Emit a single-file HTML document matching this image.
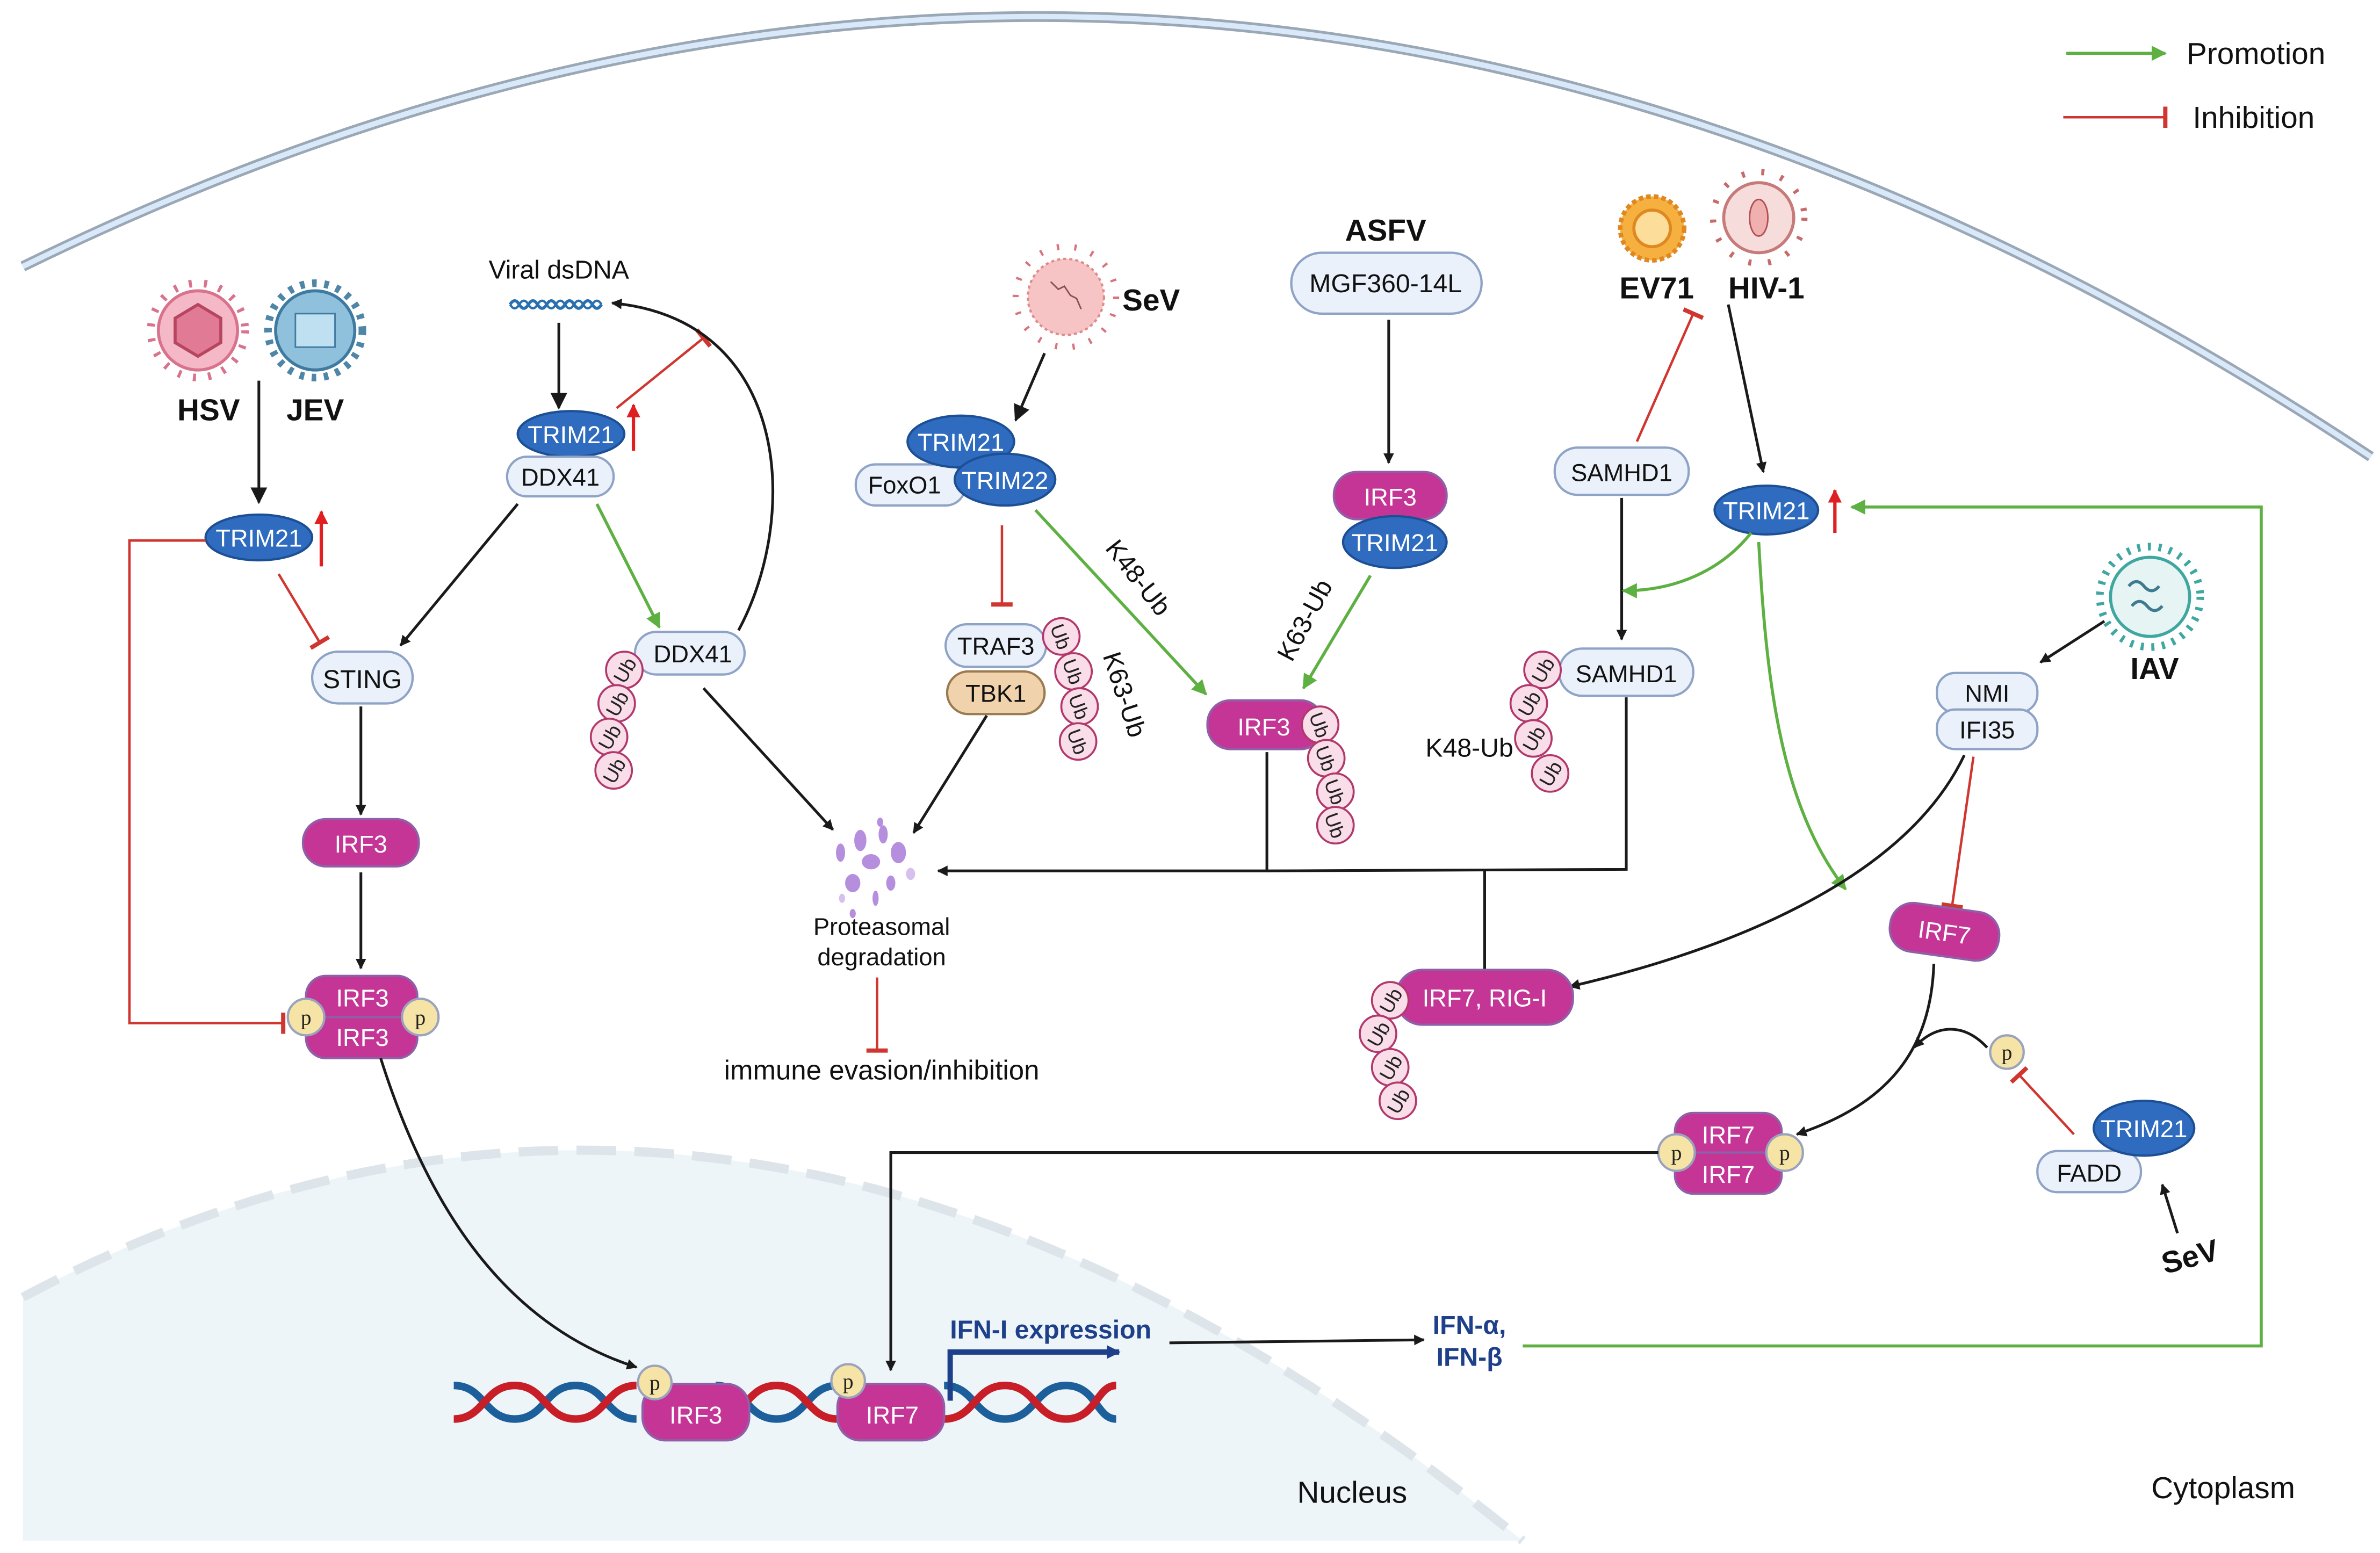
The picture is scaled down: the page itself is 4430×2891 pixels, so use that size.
<!DOCTYPE html>
<html><head><meta charset="utf-8"><style>
html,body{margin:0;padding:0;background:#fff;}
svg{display:block;}
text{font-family:"Liberation Sans",sans-serif;}
.w{fill:#fff;font-size:16px;text-anchor:middle;}
.k{fill:#111;font-size:16px;text-anchor:middle;}
.b{fill:#111;font-size:20px;font-weight:bold;text-anchor:middle;}
.ub{fill:#f9dde8;stroke:#b2386c;stroke-width:1.3;}
.ubt{fill:#222;font-size:13px;text-anchor:middle;}
.tr{fill:#2f6cbf;stroke:#1d4f95;stroke-width:1.5;}
.lt{fill:#eaf1fb;stroke:#8ea3c6;stroke-width:1.5;}
.mg{fill:#c43595;stroke:#8f5fa8;stroke-width:1.5;}
.p{fill:#f5e4a6;stroke:#9aa3bd;stroke-width:1.5;}
.pt{fill:#222;font-size:14px;text-anchor:middle;font-family:"Liberation Serif",serif;}
.blk{stroke:#1a1a1a;stroke-width:1.8;fill:none;}
.grn{stroke:#5fb043;stroke-width:2;fill:none;}
.red{stroke:#d0362f;stroke-width:1.6;fill:none;}
</style></head><body>
<svg width="4430" height="2891" viewBox="0 0 1563 1020" xmlns="http://www.w3.org/2000/svg">
<defs>
<marker id="ab" viewBox="0 0 10 10" refX="9" refY="5" markerWidth="7" markerHeight="7" orient="auto" markerUnits="userSpaceOnUse"><path d="M0,0 L10,5 L0,10 z" fill="#1a1a1a"/></marker>
<marker id="ab2" viewBox="0 0 10 10" refX="9" refY="5" markerWidth="11" markerHeight="11" orient="auto" markerUnits="userSpaceOnUse"><path d="M0,0 L10,5 L0,10 z" fill="#1a1a1a"/></marker>
<marker id="arr" viewBox="0 0 10 10" refX="9" refY="5" markerWidth="9" markerHeight="9" orient="auto" markerUnits="userSpaceOnUse"><path d="M0,0 L10,5 L0,10 z" fill="#e02020"/></marker>
<marker id="ag" viewBox="0 0 10 10" refX="9" refY="5" markerWidth="10" markerHeight="10" orient="auto" markerUnits="userSpaceOnUse"><path d="M0,0 L10,5 L0,10 z" fill="#5fb043"/></marker>
<marker id="ar" viewBox="0 0 4 20" refX="2" refY="10" markerWidth="4" markerHeight="14" orient="auto" markerUnits="userSpaceOnUse"><rect x="0" y="0" width="4" height="20" fill="#d0362f"/></marker>
<marker id="au" viewBox="0 0 10 10" refX="9" refY="5" markerWidth="9" markerHeight="9" orient="auto" markerUnits="userSpaceOnUse"><path d="M0,0 L10,5 L0,10 z" fill="#1e3f8a"/></marker>
</defs>

<path d="M15,175 Q795,-207 1557,300" stroke="#9aa7b5" stroke-width="7" fill="none"/>
<path d="M15,175 Q795,-207 1557,300" stroke="#d9e9fa" stroke-width="3.5" fill="none"/>

<path d="M15,852 Q492,598 1000,1012 L15,1012 Z" fill="#eef5f9"/>
<path d="M15,852 Q492,598 1000,1012" stroke="#dde4ea" stroke-width="6" fill="none" stroke-dasharray="26 12"/>

<line x1="1357" y1="35" x2="1422" y2="35" class="grn" stroke-width="2.5" marker-end="url(#ag)"/>
<text x="1436" y="42" style="font-size:20px;fill:#111">Promotion</text>
<line x1="1355" y1="77" x2="1422" y2="77" class="red" stroke-width="2.5" marker-end="url(#ar)"/>
<text x="1440" y="84" style="font-size:20px;fill:#111">Inhibition</text>

<circle cx="130" cy="217" r="31" fill="none" stroke="#d9738d" stroke-width="5" stroke-dasharray="2 8"/>
<circle cx="130" cy="217" r="26" fill="#f4b8c6" stroke="#d9738d" stroke-width="2"/>
<polygon points="130,200 145,209 145,225 130,234 115,225 115,209" fill="#e07a95" stroke="#b8455f" stroke-width="2"/>
<circle cx="207" cy="217" r="31" fill="none" stroke="#4f86a8" stroke-width="5" stroke-dasharray="3 5"/>
<circle cx="207" cy="217" r="26" fill="#8fc0dc" stroke="#3f7aa0" stroke-width="2"/>
<rect x="194" y="206" width="26" height="22" fill="#bfe0f0" stroke="#3f7aa0"/>
<text x="137" y="276" class="b">HSV</text>
<text x="207" y="276" class="b">JEV</text>
<line x1="170" y1="250" x2="170" y2="330" class="blk" stroke-width="2.2" marker-end="url(#ab2)"/>
<ellipse cx="170" cy="353" rx="35" ry="15" class="tr"/><text x="170" y="359" class="w">TRIM21</text>
<line x1="211" y1="372" x2="211" y2="336" stroke="#e02020" stroke-width="2.2" marker-end="url(#arr)"/>
<line x1="183" y1="377" x2="210" y2="422" class="red" marker-end="url(#ar)"/>
<polyline points="135,355 85,355 85,672 186,672" class="red" marker-end="url(#ar)"/>
<rect x="205" y="428" width="66" height="34" rx="17" class="lt"/><text x="238" y="452" class="k" style="font-size:17px">STING</text>
<line x1="237" y1="464" x2="237" y2="535" class="blk" marker-end="url(#ab)"/>
<rect x="199" y="538" width="76" height="31" rx="15" class="mg"/><text x="237" y="560" class="w">IRF3</text>
<line x1="237" y1="573" x2="237" y2="636" class="blk" marker-end="url(#ab)"/>
<rect x="201" y="641" width="73" height="28" rx="13" class="mg"/><text x="238" y="661" class="w">IRF3</text>
<rect x="201" y="668" width="73" height="27" rx="13" class="mg"/><text x="238" y="687" class="w">IRF3</text>
<circle cx="201" cy="668" r="12" class="p"/><text x="201" y="673" class="pt">p</text>
<circle cx="276" cy="668" r="12" class="p"/><text x="276" y="673" class="pt">p</text>
<path d="M250,695 C280,790 330,870 418,898" class="blk" marker-end="url(#ab)"/>

<text x="367" y="183" class="k" style="font-size:17px">Viral dsDNA</text>
<path d="M335,200 q3,-5 6,0 t6,0 t6,0 t6,0 t6,0 t6,0 t6,0 t6,0 t6,0 t6,0" stroke="#2a6fb0" stroke-width="2" fill="none"/>
<path d="M335,200 q3,5 6,0 t6,0 t6,0 t6,0 t6,0 t6,0 t6,0 t6,0 t6,0 t6,0" stroke="#2a6fb0" stroke-width="1.5" fill="none"/>
<line x1="367" y1="212" x2="367" y2="268" class="blk" stroke-width="2.2" marker-end="url(#ab2)"/>
<ellipse cx="375" cy="285" rx="35" ry="15" class="tr"/><text x="375" y="291" class="w">TRIM21</text>
<line x1="416" y1="296" x2="416" y2="266" stroke="#e02020" stroke-width="2.2" marker-end="url(#arr)"/>
<rect x="333" y="300" width="70" height="26" rx="13" class="lt"/><text x="368" y="319" class="k">DDX41</text>
<line x1="405" y1="268" x2="462" y2="222" class="red" marker-end="url(#ar)"/>
<line x1="340" y1="331" x2="263" y2="424" class="blk" marker-end="url(#ab)"/>
<line x1="392" y1="331" x2="433" y2="412" class="grn" marker-end="url(#ag)"/>
<path d="M485,414 C525,340 520,210 402,199" class="blk" marker-end="url(#ab)"/>
<rect x="417" y="415" width="72" height="28" rx="14" class="lt"/><text x="455" y="435" class="k">DDX41</text>
<g><circle cx="410" cy="440" r="12" class="ub"/><circle cx="405" cy="462" r="12" class="ub"/><circle cx="400" cy="484" r="12" class="ub"/><circle cx="403" cy="506" r="12" class="ub"/>
<text x="410" y="445" class="ubt" transform="rotate(-60 410 440)">Ub</text><text x="405" y="467" class="ubt" transform="rotate(-60 405 462)">Ub</text><text x="400" y="489" class="ubt" transform="rotate(-60 400 484)">Ub</text><text x="403" y="511" class="ubt" transform="rotate(-60 403 506)">Ub</text></g>
<line x1="462" y1="452" x2="547" y2="545" class="blk" marker-end="url(#ab)"/>

<circle cx="700" cy="195" r="33" fill="none" stroke="#d9737d" stroke-width="4" stroke-dasharray="1.5 10"/>
<circle cx="700" cy="195" r="25" fill="#f6c4c4" stroke="#e08a8a" stroke-width="1.5" stroke-dasharray="2 2"/>
<path d="M690,185 l5,5 l4,-2 l4,6 l4,2 l3,7" stroke="#8a5050" fill="none" stroke-width="1"/>
<text x="756" y="204" class="b">SeV</text>
<line x1="686" y1="232" x2="667" y2="276" class="blk" stroke-width="2.2" marker-end="url(#ab2)"/>
<rect x="562" y="305" width="72" height="27" rx="13" class="lt"/><text x="594" y="324" class="k">FoxO1</text>
<ellipse cx="631" cy="290" rx="35" ry="17" class="tr"/><text x="631" y="296" class="w">TRIM21</text>
<ellipse cx="660" cy="315" rx="33" ry="17" class="tr"/><text x="660" y="321" class="w">TRIM22</text>
<line x1="658" y1="345" x2="658" y2="397" class="red" marker-end="url(#ar)"/>
<rect x="621" y="410" width="66" height="28" rx="14" class="lt"/><text x="654" y="430" class="k">TRAF3</text>
<rect x="622" y="441" width="64" height="28" rx="14" fill="#f0d3ad" stroke="#9a7a50" stroke-width="1.5"/><text x="654" y="461" class="k">TBK1</text>
<g><circle cx="697" cy="418" r="12" class="ub"/><circle cx="705" cy="441" r="12" class="ub"/><circle cx="709" cy="464" r="12" class="ub"/><circle cx="708" cy="487" r="12" class="ub"/>
<text x="697" y="423" class="ubt" transform="rotate(70 697 418)">Ub</text><text x="705" y="446" class="ubt" transform="rotate(70 705 441)">Ub</text><text x="709" y="469" class="ubt" transform="rotate(70 709 464)">Ub</text><text x="708" y="492" class="ubt" transform="rotate(70 708 487)">Ub</text></g>
<text x="733" y="458" class="k" style="font-size:17px" transform="rotate(72 733 458)">K63-Ub</text>
<line x1="648" y1="470" x2="600" y2="547" class="blk" marker-end="url(#ab)"/>
<line x1="680" y1="335" x2="792" y2="456" class="grn" marker-end="url(#ag)"/>
<text x="743" y="383" class="k" style="font-size:17px" transform="rotate(52 743 383)">K48-Ub</text>

<g fill="#b58fdd">
<ellipse cx="565" cy="552" rx="4" ry="7"/><ellipse cx="580" cy="548" rx="3" ry="6"/><ellipse cx="590" cy="560" rx="5" ry="7"/><ellipse cx="572" cy="566" rx="6" ry="5"/><ellipse cx="552" cy="560" rx="3" ry="6"/><ellipse cx="560" cy="580" rx="5" ry="6"/><ellipse cx="585" cy="580" rx="3" ry="5"/><ellipse cx="575" cy="590" rx="2" ry="5"/><ellipse cx="598" cy="574" rx="3" ry="4" fill="#d5c0ee"/><ellipse cx="553" cy="590" rx="2" ry="3" fill="#d5c0ee"/><ellipse cx="578" cy="540" rx="2" ry="3"/><ellipse cx="560" cy="600" rx="2" ry="3"/>
</g>
<text x="579" y="614" class="k">Proteasomal</text>
<text x="579" y="634" class="k">degradation</text>
<line x1="576" y1="642" x2="576" y2="690" class="red" marker-end="url(#ar)"/>
<text x="579" y="709" class="k" style="font-size:18px">immune evasion/inhibition</text>

<text x="910" y="158" class="b">ASFV</text>
<rect x="848" y="166" width="125" height="40" rx="20" class="lt"/><text x="910" y="192" class="k" style="font-size:17px">MGF360-14L</text>
<line x1="912" y1="210" x2="912" y2="304" class="blk" marker-end="url(#ab)"/>
<rect x="876" y="310" width="74" height="31" rx="15" class="mg"/><text x="913" y="332" class="w">IRF3</text>
<ellipse cx="916" cy="356" rx="34" ry="17" class="tr"/><text x="916" y="362" class="w">TRIM21</text>
<line x1="900" y1="378" x2="856" y2="452" class="grn" marker-end="url(#ag)"/>
<text x="862" y="410" class="k" style="font-size:17px" transform="rotate(-62 862 410)">K63-Ub</text>
<rect x="793" y="460" width="76" height="32" rx="15" class="mg"/><text x="830" y="483" class="w">IRF3</text>
<g><circle cx="867" cy="476" r="12" class="ub"/><circle cx="871" cy="498" r="12" class="ub"/><circle cx="877" cy="520" r="12" class="ub"/><circle cx="877" cy="542" r="12" class="ub"/>
<text x="867" y="481" class="ubt" transform="rotate(70 867 476)">Ub</text><text x="871" y="503" class="ubt" transform="rotate(70 871 498)">Ub</text><text x="877" y="525" class="ubt" transform="rotate(70 877 520)">Ub</text><text x="877" y="547" class="ubt" transform="rotate(70 877 542)">Ub</text></g>
<polyline points="832,494 832,572 616,572" class="blk" marker-end="url(#ab)"/>
<polyline points="1068,458 1068,571 832,572" class="blk"/>
<line x1="975" y1="572" x2="975" y2="640" class="blk"/>

<circle cx="1085" cy="150" r="21" fill="#f6b040" stroke="#e08820" stroke-width="3" stroke-dasharray="3 2"/>
<circle cx="1085" cy="150" r="12" fill="#fcdd9a" stroke="#e08820" stroke-width="2"/>
<circle cx="1155" cy="143" r="30" fill="none" stroke="#c76a6a" stroke-width="4" stroke-dasharray="2 11"/>
<circle cx="1155" cy="143" r="23" fill="#f7dcdc" stroke="#c77a7a" stroke-width="2"/>
<ellipse cx="1155" cy="143" rx="6" ry="12" fill="#f0b0b0" stroke="#b05050"/>
<text x="1088" y="196" class="b">EV71</text>
<text x="1160" y="196" class="b">HIV-1</text>
<line x1="1075" y1="290" x2="1112" y2="206" class="red" marker-end="url(#ar)"/>
<rect x="1021" y="294" width="88" height="31" rx="15" class="lt"/><text x="1065" y="316" class="k">SAMHD1</text>
<line x1="1065" y1="327" x2="1065" y2="420" class="blk" marker-end="url(#ab)"/>
<rect x="1024" y="426" width="88" height="31" rx="15" class="lt"/><text x="1068" y="448" class="k">SAMHD1</text>
<g><circle cx="1013" cy="440" r="12" class="ub"/><circle cx="1004" cy="462" r="12" class="ub"/><circle cx="1007" cy="485" r="12" class="ub"/><circle cx="1018" cy="508" r="12" class="ub"/>
<text x="1013" y="445" class="ubt" transform="rotate(-60 1013 440)">Ub</text><text x="1004" y="467" class="ubt" transform="rotate(-60 1004 462)">Ub</text><text x="1007" y="490" class="ubt" transform="rotate(-60 1007 485)">Ub</text><text x="1018" y="513" class="ubt" transform="rotate(-60 1018 508)">Ub</text></g>
<text x="965" y="497" class="k" style="font-size:17px">K48-Ub</text>
<line x1="1135" y1="200" x2="1158" y2="310" class="blk" marker-end="url(#ab)"/>
<ellipse cx="1160" cy="335" rx="34" ry="16" class="tr"/><text x="1160" y="341" class="w">TRIM21</text>
<line x1="1205" y1="350" x2="1205" y2="322" stroke="#e02020" stroke-width="2.2" marker-end="url(#arr)"/>
<path d="M1150,350 C1130,375 1100,388 1066,388" class="grn" marker-end="url(#ag)"/>
<path d="M1155,356 C1160,450 1170,530 1212,584" class="grn" marker-end="url(#ag)"/>
<polyline points="1000,884 1485,884 1485,333 1216,333" class="grn" marker-end="url(#ag)"/>

<circle cx="1412" cy="392" r="33" fill="none" stroke="#3fa7a0" stroke-width="5" stroke-dasharray="2 5"/>
<circle cx="1412" cy="392" r="26" fill="#e6f4f4" stroke="#3fa7a0" stroke-width="2"/>
<path d="M1398,385 q5,-6 10,0 t10,0 M1400,398 q5,-6 10,0 t10,0" stroke="#3f7a90" stroke-width="2" fill="none"/>
<text x="1415" y="446" class="b">IAV</text>
<line x1="1382" y1="408" x2="1340" y2="435" class="blk" marker-end="url(#ab)"/>
<rect x="1272" y="442" width="66" height="26" rx="12" class="lt"/><text x="1305" y="461" class="k">NMI</text>
<rect x="1272" y="466" width="66" height="26" rx="12" class="lt"/><text x="1305" y="485" class="k">IFI35</text>
<line x1="1296" y1="497" x2="1282" y2="595" class="red" marker-end="url(#ar)"/>
<path d="M1290,496 C1250,580 1130,625 1031,648" class="blk" marker-end="url(#ab)"/>
<rect x="917" y="637" width="116" height="36" rx="17" class="mg"/><text x="975" y="661" class="w">IRF7, RIG-I</text>
<g><circle cx="913" cy="657" r="12" class="ub"/><circle cx="905" cy="679" r="12" class="ub"/><circle cx="913" cy="701" r="12" class="ub"/><circle cx="918" cy="723" r="12" class="ub"/>
<text x="913" y="662" class="ubt" transform="rotate(-60 913 657)">Ub</text><text x="905" y="684" class="ubt" transform="rotate(-60 905 679)">Ub</text><text x="913" y="706" class="ubt" transform="rotate(-60 913 701)">Ub</text><text x="918" y="728" class="ubt" transform="rotate(-60 918 723)">Ub</text></g>
<rect x="1241" y="596" width="72" height="32" rx="15" class="mg" transform="rotate(8 1277 612)"/><text x="1277" y="618" class="w" transform="rotate(8 1277 612)">IRF7</text>
<path d="M1270,633 C1268,690 1240,725 1180,745" class="blk" marker-end="url(#ab)"/>
<path d="M1305,688 C1290,672 1272,672 1257,688" class="blk" marker-end="url(#ab)"/>
<circle cx="1318" cy="691" r="11" class="p"/><text x="1318" y="696" class="pt">p</text>
<line x1="1362" y1="745" x2="1326" y2="706" class="red" marker-end="url(#ar)"/>
<rect x="1338" y="756" width="68" height="27" rx="13" class="lt"/><text x="1372" y="776" class="k">FADD</text>
<ellipse cx="1408" cy="741" rx="33" ry="18" class="tr"/><text x="1408" y="747" class="w">TRIM21</text>
<line x1="1430" y1="810" x2="1420" y2="778" class="blk" marker-end="url(#ab)"/>
<text x="1440" y="832" class="b" transform="rotate(-15 1440 832)">SeV</text>

<rect x="1100" y="731" width="70" height="27" rx="12" class="mg"/><text x="1135" y="751" class="w">IRF7</text>
<rect x="1100" y="757" width="70" height="27" rx="12" class="mg"/><text x="1135" y="777" class="w">IRF7</text>
<circle cx="1101" cy="757" r="12" class="p"/><text x="1101" y="762" class="pt">p</text>
<circle cx="1172" cy="757" r="12" class="p"/><text x="1172" y="762" class="pt">p</text>
<polyline points="1089,757 585,757 585,900" class="blk" marker-end="url(#ab)"/>

<path d="M298,910 C318,910 318,932 338,932 C358,932 358,910 378,910 C398,910 398,932 418,932 M470,910 C490,910 490,932 510,932 C530,932 530,910 550,910 M620,910 C640,910 640,932 660,932 C680,932 680,910 700,910 C720,910 720,932 733,932" stroke="#1d5f9a" stroke-width="5" fill="none"/>
<path d="M298,932 C318,932 318,910 338,910 C358,910 358,932 378,932 C398,932 398,910 418,910 M470,932 C490,932 490,910 510,910 C530,910 530,932 550,932 M620,932 C640,932 640,910 660,910 C680,910 680,932 700,932 C720,932 720,910 733,910" stroke="#c81e28" stroke-width="5" fill="none"/>
<rect x="422" y="909" width="70" height="37" rx="15" class="mg"/><text x="457" y="935" class="w">IRF3</text>
<circle cx="430" cy="908" r="11" class="p"/><text x="430" y="913" class="pt">p</text>
<rect x="550" y="909" width="70" height="37" rx="15" class="mg"/><text x="586" y="935" class="w">IRF7</text>
<circle cx="557" cy="907" r="11" class="p"/><text x="557" y="912" class="pt">p</text>
<polyline points="624,920 624,888 735,888" stroke="#1e3f8a" stroke-width="3.5" fill="none" marker-end="url(#au)"/>
<text x="690" y="879" style="font-size:17px;font-weight:bold;fill:#1e3f8a;text-anchor:middle">IFN-I expression</text>
<line x1="768" y1="882" x2="935" y2="880" class="blk" marker-end="url(#ab)"/>
<text x="965" y="876" style="font-size:17px;font-weight:bold;fill:#1e3f8a;text-anchor:middle">IFN-α,</text>
<text x="965" y="897" style="font-size:17px;font-weight:bold;fill:#1e3f8a;text-anchor:middle">IFN-β</text>
<text x="888" y="987" class="k" style="font-size:20px">Nucleus</text>
<text x="1460" y="984" class="k" style="font-size:20px">Cytoplasm</text>
</svg>
</body></html>
